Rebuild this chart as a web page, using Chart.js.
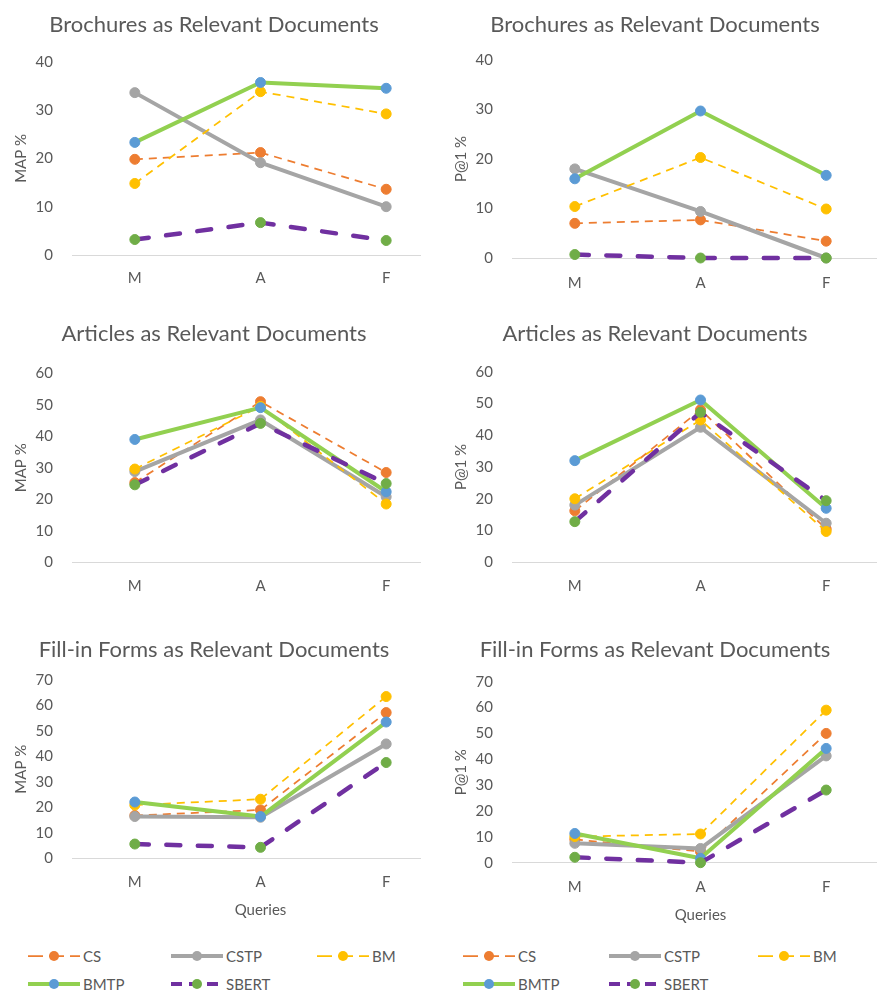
<!DOCTYPE html>
<html>
<head>
<meta charset="utf-8">
<script src="https://cdn.jsdelivr.net/npm/chart.js@4.4.1/dist/chart.umd.min.js"></script>
<style>
  html, body { margin: 0; padding: 0; background: #fff; }
  #page { position: relative; width: 877px; height: 990px; overflow: hidden; background: #fff; font-family: Lato, sans-serif; }
  #page canvas { position: absolute; }
  #page canvas.right { background: #fff; z-index: 1; }
  .legend-item { position: absolute; display: flex; align-items: center; height: 20px; color: #595959; font-size: 15px; white-space: nowrap; z-index: 2; }
  .legend-item svg { margin-right: 3px; }
</style>
</head>
<body>
<div id="page">
  <canvas id="c1" width="470" height="300" style="left:-21px; top:0px"></canvas>
  <canvas id="c2" class="right" width="468" height="300" style="left:421px; top:0px"></canvas>
  <canvas id="c3" width="470" height="310" style="left:-21px; top:310px"></canvas>
  <canvas id="c4" class="right" width="468" height="310" style="left:421px; top:310px"></canvas>
  <canvas id="c5" width="470" height="300" style="left:-21px; top:630px"></canvas>
  <canvas id="c6" class="right" width="468" height="300" style="left:421px; top:630px"></canvas>
</div>
<script>
// Query types on the x axis and the retrieval methods compared
const queryTypes = ['M', 'A', 'F'];
const methodNames = ['CS', 'CSTP', 'BM', 'BMTP', 'SBERT'];

// Brochures, MAP %
const brochuresMapCS    = [19.8, 21.2, 13.6];
const brochuresMapCSTP  = [33.6, 19.1, 10.0];
const brochuresMapBM    = [14.8, 33.8, 29.2];
const brochuresMapBMTP  = [23.3, 35.7, 34.5];
const brochuresMapSBERT = [3.2, 6.7, 3.0];

// Brochures, P@1 %
const brochuresP1CS    = [7.0, 7.7, 3.4];
const brochuresP1CSTP  = [18.0, 9.4, 0.0];
const brochuresP1BM    = [10.4, 20.3, 9.9];
const brochuresP1BMTP  = [16.0, 29.7, 16.7];
const brochuresP1SBERT = [0.7, 0.0, 0.0];

// Articles, MAP %
const articlesMapCS    = [25.3, 51.0, 28.5];
const articlesMapCSTP  = [28.8, 45.2, 20.8];
const articlesMapBM    = [29.6, 49.5, 18.5];
const articlesMapBMTP  = [39.0, 49.1, 22.4];
const articlesMapSBERT = [24.6, 44.1, 25.0];

// Articles, P@1 %
const articlesP1CS    = [16.2, 48.0, 10.5];
const articlesP1CSTP  = [18.0, 42.5, 12.3];
const articlesP1BM    = [20.0, 44.8, 9.7];
const articlesP1BMTP  = [32.0, 51.1, 17.0];
const articlesP1SBERT = [12.8, 47.2, 19.4];

// Fill-in forms, MAP %
const formsMapCS    = [16.8, 19.0, 57.2];
const formsMapCSTP  = [16.4, 16.1, 44.9];
const formsMapBM    = [20.9, 23.2, 63.5];
const formsMapBMTP  = [22.1, 16.4, 53.5];
const formsMapSBERT = [5.6, 4.3, 37.6];

// Fill-in forms, P@1 %
const formsP1CS    = [9.0, 4.3, 50.0];
const formsP1CSTP  = [7.5, 5.5, 41.3];
const formsP1BM    = [10.1, 11.1, 59.0];
const formsP1BMTP  = [11.3, 1.7, 44.2];
const formsP1SBERT = [2.1, 0.0, 28.1];

// Line and marker styling per method
const seriesStyles = {
  CS:    { line: '#ED7D31', point: '#ED7D31', width: 1.75, dash: [8, 6],     cap: 'butt',  legendDash: '15 6', legendWidth: 1.75 },
  CSTP:  { line: '#A5A5A5', point: '#A5A5A5', width: 4,    dash: [],         cap: 'round', legendDash: '',     legendWidth: 4 },
  BM:    { line: '#FFC000', point: '#FFC000', width: 1.75, dash: [8, 6],     cap: 'butt',  legendDash: '15 6', legendWidth: 1.75 },
  BMTP:  { line: '#92D050', point: '#5B9BD5', width: 4,    dash: [],         cap: 'round', legendDash: '',     legendWidth: 4 },
  SBERT: { line: '#7030A0', point: '#70AD47', width: 4.5,  dash: [14, 17.5], cap: 'round', legendDash: '11 7', legendWidth: 4 }
};

const textColor = '#595959';
const fontFamily = 'Lato, sans-serif';

// Panel layout: titles, axis ranges and spacing inside each canvas
const panels = [
  { id: 'c1', title: 'Brochures as Relevant Documents', yTitle: 'MAP %', yMax: 40,
    values: [brochuresMapCS, brochuresMapCSTP, brochuresMapBM, brochuresMapBMTP, brochuresMapSBERT],
    side: 'left', height: 300, titleTop: 11.8, titleGap: 23.5, plotBottom: 255, tickPad: 14, xTitle: null },
  { id: 'c2', title: 'Brochures as Relevant Documents', yTitle: 'P@1 %', yMax: 40,
    values: [brochuresP1CS, brochuresP1CSTP, brochuresP1BM, brochuresP1BMTP, brochuresP1SBERT],
    side: 'right', height: 300, titleTop: 11.8, titleGap: 21.8, plotBottom: 258, tickPad: 16, xTitle: null },
  { id: 'c3', title: 'Articles as Relevant Documents', yTitle: 'MAP %', yMax: 60,
    values: [articlesMapCS, articlesMapCSTP, articlesMapBM, articlesMapBMTP, articlesMapSBERT],
    side: 'left', height: 310, titleTop: 10.8, titleGap: 26.1, plotBottom: 252.3, tickPad: 14.7, xTitle: null },
  { id: 'c4', title: 'Articles as Relevant Documents', yTitle: 'P@1 %', yMax: 60,
    values: [articlesP1CS, articlesP1CSTP, articlesP1BM, articlesP1BMTP, articlesP1SBERT],
    side: 'right', height: 310, titleTop: 10.8, titleGap: 24.5, plotBottom: 252.3, tickPad: 14.7, xTitle: null },
  { id: 'c5', title: 'Fill-in Forms as Relevant Documents', yTitle: 'MAP %', yMax: 70,
    values: [formsMapCS, formsMapCSTP, formsMapBM, formsMapBMTP, formsMapSBERT],
    side: 'left', height: 300, titleTop: 6.8, titleGap: 16.8, plotBottom: 228.3, tickPad: 14.4, xTitle: 'Queries', xTitlePad: 11 },
  { id: 'c6', title: 'Fill-in Forms as Relevant Documents', yTitle: 'P@1 %', yMax: 70,
    values: [formsP1CS, formsP1CSTP, formsP1BM, formsP1BMTP, formsP1SBERT],
    side: 'right', height: 300, titleTop: 6.8, titleGap: 18.5, plotBottom: 232.7, tickPad: 15, xTitle: 'Queries', xTitlePad: 6 }
];

function buildDatasets(values) {
  return methodNames.map((name, i) => {
    const s = seriesStyles[name];
    return {
      label: name,
      data: values[i],
      borderColor: s.line,
      borderWidth: s.width,
      borderDash: s.dash,
      borderCapStyle: s.cap,
      borderJoinStyle: 'round',
      backgroundColor: s.point,
      pointBackgroundColor: s.point,
      pointBorderColor: s.point,
      pointBorderWidth: 1,
      pointRadius: 5,
      tension: 0,
      fill: false,
      clip: false,
      order: methodNames.length - i
    };
  });
}

panels.forEach(p => {
  const yAxisWidth = p.side === 'left' ? 93 : 91;
  const yTitlePad = p.side === 'left' ? 33 : 31;
  const xAxisHeight = p.height - p.plotBottom;
  new Chart(document.getElementById(p.id), {
    type: 'line',
    data: { labels: queryTypes, datasets: buildDatasets(p.values) },
    options: {
      responsive: false,
      animation: false,
      layout: { padding: 0, autoPadding: false },
      plugins: {
        legend: { display: false },
        tooltip: { enabled: false },
        title: {
          display: true,
          text: p.title,
          color: textColor,
          font: { family: fontFamily, size: 22, weight: 'normal', lineHeight: 1.2 },
          padding: { top: p.titleTop, bottom: p.titleGap }
        }
      },
      scales: {
        x: {
          type: 'category',
          offset: true,
          grid: { display: false, drawTicks: false },
          border: { display: true, color: '#D9D9D9', width: 1 },
          ticks: { color: textColor, padding: p.tickPad, font: { family: fontFamily, size: 15, lineHeight: 1.2 } },
          title: p.xTitle ? {
            display: true, text: p.xTitle, color: textColor,
            font: { family: fontFamily, size: 15, lineHeight: 1.2 },
            padding: { top: 0, bottom: p.xTitlePad }
          } : { display: false },
          afterFit: scale => { scale.height = xAxisHeight; }
        },
        y: {
          min: 0,
          max: p.yMax,
          grid: { display: false, drawTicks: false },
          border: { display: false },
          ticks: { stepSize: 10, color: textColor, padding: 19, font: { family: fontFamily, size: 15, lineHeight: 1.2 } },
          title: {
            display: true, text: p.yTitle, color: textColor,
            font: { family: fontFamily, size: 15, lineHeight: 1.2 },
            padding: { top: yTitlePad, bottom: 0 }
          },
          afterFit: scale => { scale.width = yAxisWidth; }
        }
      }
    }
  });
});

// Legends below the bottom row: line sample with marker, then the method name
const legendRows = [
  { y: 956, names: ['CS', 'CSTP', 'BM'] },
  { y: 984, names: ['BMTP', 'SBERT'] }
];
const legendColumns = [
  [28, 171, 317],
  [463, 609, 758]
];
const page = document.getElementById('page');
legendColumns.forEach(cols => {
  legendRows.forEach(row => {
    row.names.forEach((name, j) => {
      const s = seriesStyles[name];
      const item = document.createElement('div');
      item.className = 'legend-item';
      item.style.left = cols[j] + 'px';
      item.style.top = (row.y - 10) + 'px';
      const svgNS = 'http://www.w3.org/2000/svg';
      const svg = document.createElementNS(svgNS, 'svg');
      svg.setAttribute('width', '52');
      svg.setAttribute('height', '14');
      const ln = document.createElementNS(svgNS, 'line');
      ln.setAttribute('x1', '0'); ln.setAttribute('y1', '7');
      ln.setAttribute('x2', '52'); ln.setAttribute('y2', '7');
      ln.setAttribute('stroke', s.line);
      ln.setAttribute('stroke-width', s.legendWidth);
      if (s.legendDash) ln.setAttribute('stroke-dasharray', s.legendDash);
      svg.appendChild(ln);
      const dot = document.createElementNS(svgNS, 'circle');
      dot.setAttribute('cx', '26'); dot.setAttribute('cy', '7'); dot.setAttribute('r', '5');
      dot.setAttribute('fill', s.point);
      svg.appendChild(dot);
      item.appendChild(svg);
      const label = document.createElement('span');
      label.textContent = name;
      item.appendChild(label);
      page.appendChild(item);
    });
  });
});
</script>
</body>
</html>
